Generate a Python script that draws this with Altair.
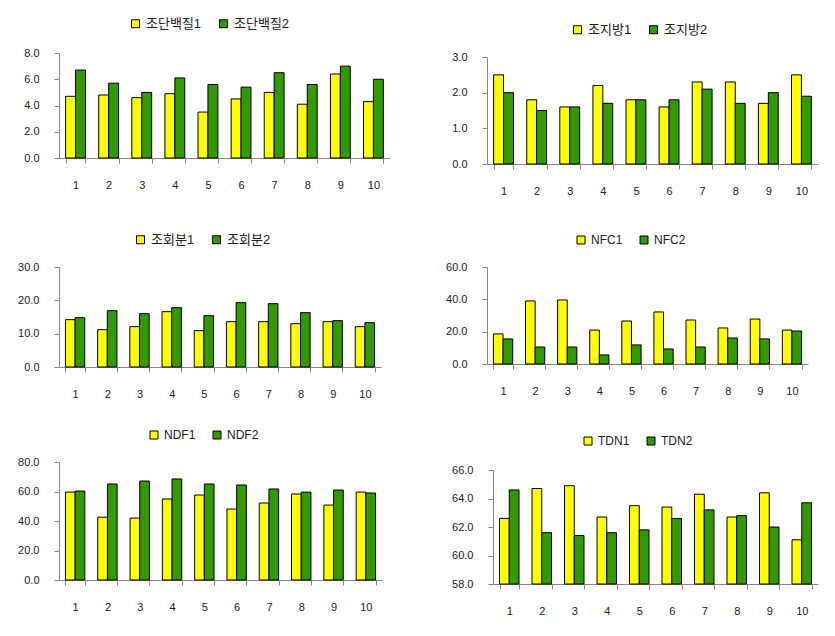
import altair as alt
import pandas as pd

cats = [1, 2, 3, 4, 5, 6, 7, 8, 9, 10]

cp_names = ["조단백질1", "조단백질2"]
cp1 = [4.7, 4.8, 4.6, 4.9, 3.5, 4.5, 5.0, 4.1, 6.4, 4.3]
cp2 = [6.7, 5.7, 5.0, 6.1, 5.6, 5.4, 6.5, 5.6, 7.0, 6.0]

ee_names = ["조지방1", "조지방2"]
ee1 = [2.5, 1.8, 1.6, 2.2, 1.8, 1.6, 2.3, 2.3, 1.7, 2.5]
ee2 = [2.0, 1.5, 1.6, 1.7, 1.8, 1.8, 2.1, 1.7, 2.0, 1.9]

ash_names = ["조회분1", "조회분2"]
ash1 = [14.2, 11.2, 12.1, 16.6, 10.9, 13.6, 13.6, 13.0, 13.6, 12.1]
ash2 = [14.8, 16.9, 16.0, 17.8, 15.4, 19.3, 19.0, 16.3, 13.9, 13.3]

nfc_names = ["NFC1", "NFC2"]
nfc1 = [18.6, 39.0, 39.6, 21.0, 26.6, 32.2, 27.2, 22.3, 27.8, 21.0]
nfc2 = [15.5, 10.5, 10.5, 5.6, 11.8, 9.3, 10.5, 16.1, 15.5, 20.4]

ndf_names = ["NDF1", "NDF2"]
ndf1 = [59.6, 42.6, 42.0, 54.9, 57.6, 48.1, 52.2, 58.3, 50.8, 59.6]
ndf2 = [60.3, 65.1, 67.1, 68.5, 65.1, 64.4, 61.7, 59.6, 61.0, 59.0]

tdn_names = ["TDN1", "TDN2"]
tdn1 = [62.6, 64.7, 64.9, 62.7, 63.5, 63.4, 64.3, 62.7, 64.4, 61.1]
tdn2 = [64.6, 61.6, 61.4, 61.6, 61.8, 62.6, 63.2, 62.8, 62.0, 63.7]

FONT = "Liberation Sans, Noto Sans CJK KR"
YELLOW = "#FFFF00"
GREEN = "#339900"
AXIS_GRAY = "#868686"


def panel(names, v1, v2, ydom, yvals, w, h, lx, ly, lpad, yext, lfs,
          xmin=0, ytop=0):
    df = pd.DataFrame({
        "cat": cats + cats,
        "series": [names[0]] * len(cats) + [names[1]] * len(cats),
        "val": v1 + v2,
    })
    xaxis_kw = dict(title=None, labelAngle=0, tickBand="extent",
                    tickSize=5, labelPadding=16, labelFontSize=11,
                    labelFont=FONT, labelColor="#222222",
                    domainColor=AXIS_GRAY, tickColor=AXIS_GRAY, grid=False)
    xscale_kw = dict(paddingInner=0.4, paddingOuter=0.2)
    yaxis_kw = dict(title=None, values=yvals, format=".1f",
                    tickSize=5, labelPadding=15, labelFontSize=11,
                    labelFont=FONT, labelColor="#222222",
                    domainColor=AXIS_GRAY, tickColor=AXIS_GRAY,
                    grid=False, minExtent=yext, maxExtent=yext)
    yscale_kw = dict(domain=ydom, nice=False, zero=False)
    if xmin:
        xscale_kw.update(rangeMin=xmin)
        yaxis_kw.update(offset=-xmin)
    if ytop:
        yscale_kw.update(rangeMax=ytop)
    return alt.Chart(df).mark_bar(stroke="black", strokeWidth=1).encode(
        x=alt.X("cat:O", sort=cats, scale=alt.Scale(**xscale_kw),
                axis=alt.Axis(**xaxis_kw)),
        xOffset=alt.XOffset("series:N", sort=names,
                            scale=alt.Scale(paddingInner=0, paddingOuter=0)),
        y=alt.Y("val:Q", scale=alt.Scale(**yscale_kw),
                axis=alt.Axis(**yaxis_kw)),
        y2=alt.datum(ydom[0]),
        color=alt.Color("series:N", sort=names,
                        scale=alt.Scale(domain=names, range=[YELLOW, GREEN]),
                        legend=alt.Legend(title=None, orient="none",
                                          direction="horizontal",
                                          legendX=lx, legendY=ly, padding=lpad,
                                          symbolType="square", symbolSize=64,
                                          symbolStrokeColor="black",
                                          symbolStrokeWidth=1,
                                          labelFontSize=lfs, labelFont=FONT,
                                          labelColor="#222222",
                                          labelOffset=4, columnPadding=15)),
    ).properties(width=w, height=h)


L1 = panel(cp_names, cp1, cp2, [0, 8], [0, 2, 4, 6, 8], 331, 105, 58, -48, 12, 54, 13)
L2 = panel(ash_names, ash1, ash2, [0, 30], [0, 10, 20, 30], 322, 100, 60, -49, 15, 54, 13)
L3 = panel(ndf_names, ndf1, ndf2, [0, 80], [0, 20, 40, 60, 80], 323, 118, 87, -35, 2, 54, 12)

R1 = panel(ee_names, ee1, ee2, [0, 3], [0, 1, 2, 3], 331, 111, 66, -48, 18, 45, 13, ytop=4)
R2 = panel(nfc_names, nfc1, nfc2, [0, 60], [0, 20, 40, 60], 321, 97, 78, -43, 10, 45, 12)
R3 = panel(tdn_names, tdn1, tdn2, [58, 66], [58, 60, 62, 64, 66], 331, 114, 84, -46, 11, 45, 12,
           xmin=6)

res = dict(color="independent", x="independent", y="independent", xOffset="independent")

left = alt.vconcat(L1, L2, L3, spacing=28).resolve_scale(**res)
right = alt.vconcat(R1, R2, R3, spacing=28).resolve_scale(**res)

chart = alt.hconcat(left, right, spacing=52).resolve_scale(**res).properties(
    padding={"left": 5, "top": 5, "right": 5, "bottom": 5},
    background="white",
).configure_view(stroke=None)

chart.save("out.html", embed_options={"renderer": "svg", "actions": False})
